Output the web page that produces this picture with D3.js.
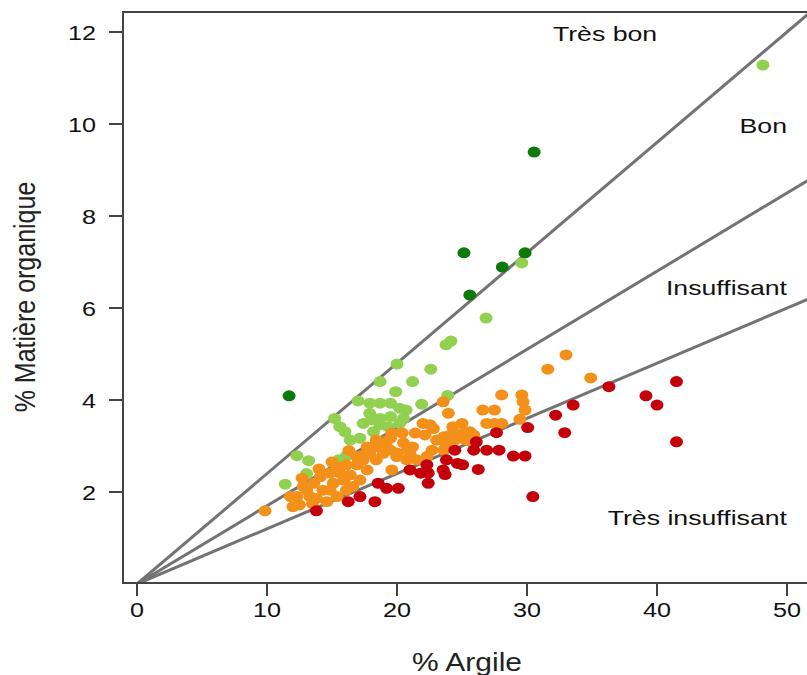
<!DOCTYPE html>
<html><head><meta charset="utf-8">
<script src="https://cdn.jsdelivr.net/npm/d3@7"></script>
<style>body{margin:0;background:#fff}</style>
</head><body>
<script>
const xTicks = [0,10,20,30,40,50];
const yTicks = [2,4,6,8,10,12];
const ratios = [0.24,0.17,0.12];
const zoneLabels = ["Très bon","Bon","Insuffisant","Très insuffisant"];
const tresBon = [[11.7,4.09],[25.15,7.2],[25.6,6.28],[28.1,6.89],[29.85,7.2],[30.55,9.39]];
const bon = [[48.15,11.28],[29.6,6.98],[26.85,5.78],[24.15,5.28],[23.77,5.2],[22.6,4.67],[20.0,4.78],[21.2,4.4],[18.7,4.4],[19.9,4.18],[23.9,4.1],[21.9,3.91],[17.0,3.98],[17.9,3.93],[18.7,3.93],[19.5,3.93],[20.2,3.82],[20.7,3.78],[17.9,3.71],[18.7,3.6],[19.5,3.64],[20.5,3.6],[15.2,3.6],[15.6,3.42],[16.0,3.31],[17.4,3.49],[18.05,3.57],[18.7,3.46],[19.3,3.42],[18.2,3.31],[20.2,3.49],[16.4,3.13],[17.15,3.17],[16.1,2.78],[15.5,2.7],[12.3,2.79],[13.2,2.68],[13.05,2.4],[11.4,2.17]];
const insuffisant = [[31.6,4.67],[33.0,4.98],[34.9,4.48],[28.05,4.11],[29.6,4.11],[29.7,3.96],[29.85,3.78],[26.6,3.78],[27.5,3.78],[23.95,3.71],[23.55,3.96],[26.9,3.49],[27.5,3.49],[28.05,3.49],[29.45,3.58],[25.0,3.49],[24.3,3.42],[25.6,3.31],[25.1,3.28],[24.6,3.24],[24.1,3.24],[23.6,3.2],[23.8,3.02],[24.3,3.09],[24.85,3.17],[25.35,3.13],[25.9,3.24],[22.8,3.38],[22.0,3.49],[22.55,3.46],[21.4,3.28],[22.15,3.24],[19.6,3.28],[20.4,3.28],[18.9,3.09],[18.3,2.98],[17.8,2.91],[17.4,2.8],[17.0,2.74],[20.5,3.07],[21.2,2.98],[20.8,2.91],[20.0,2.85],[19.5,2.91],[23.05,3.13],[22.7,2.91],[22.3,2.77],[23.6,2.91],[24.1,2.98],[25.75,3.09],[21.5,2.7],[20.75,2.7],[19.98,2.77],[19.6,2.48],[17.7,2.48],[16.9,2.59],[16.1,2.59],[15.4,2.55],[14.85,2.41],[14.1,2.33],[13.6,2.19],[12.8,2.12],[12.3,1.9],[11.8,1.9],[12.0,1.68],[12.5,1.72],[13.8,1.86],[14.6,1.79],[15.4,1.9],[16.1,2.04],[16.6,2.12],[17.15,2.26],[9.85,1.59],[13.05,2.04],[14.3,2.04],[15.1,2.19],[15.9,2.26],[16.4,2.37],[15.6,2.41],[13.3,1.9],[14.85,2.04],[16.9,2.77],[17.4,2.7],[18.4,2.7],[17.9,2.84],[18.95,2.84],[19.2,2.98],[17.7,2.98],[18.4,3.13],[19.5,3.17],[21.0,2.85],[13.5,1.75],[14.0,2.5],[15.0,2.65],[16.3,2.9],[12.7,2.3]];
const tresInsuffisant = [[36.3,4.29],[33.55,3.89],[32.2,3.67],[32.9,3.29],[39.15,4.09],[40.0,3.89],[41.5,4.4],[41.5,3.09],[30.05,3.4],[27.65,3.29],[26.1,3.09],[24.45,2.91],[25.9,2.91],[26.9,2.91],[27.85,2.91],[28.95,2.78],[29.85,2.78],[23.8,2.7],[24.65,2.62],[25.05,2.59],[23.55,2.48],[23.7,2.38],[26.25,2.49],[30.45,1.9],[21.0,2.48],[21.8,2.41],[22.3,2.59],[22.4,2.41],[22.4,2.19],[18.55,2.19],[19.2,2.08],[20.1,2.08],[17.15,1.9],[16.25,1.79],[18.3,1.79],[13.8,1.59]];

const W = 807, H = 675;
const svg = d3.select("body").append("svg").attr("width", W).attr("height", H);
const x = d3.scaleLinear().domain([0,50]).range([137,787]);
const y = d3.scaleLinear().domain([0,12]).range([584,32]);
const box = {l:123, t:12, r:812, b:583};
const font = "'Liberation Sans', Arial, sans-serif";
const SX = 1.2, SXL = 1.27;

svg.append("clipPath").attr("id","clip").append("rect")
  .attr("x",box.l).attr("y",box.t).attr("width",box.r-box.l).attr("height",box.b-box.t);

const plot = svg.append("g").attr("clip-path","url(#clip)");
plot.selectAll("line.r").data(ratios).enter().append("line")
  .attr("x1", x(0)).attr("y1", y(0))
  .attr("x2", x(60)).attr("y2", r => y(60*r))
  .attr("stroke","#737373").attr("stroke-width",3);

const groups = [
  {data: bon, color:"#92d050"},
  {data: insuffisant, color:"#f39019"},
  {data: tresInsuffisant, color:"#c4000a"},
  {data: tresBon, color:"#0b7a0b"}
];
groups.forEach(g => {
  plot.append("g").selectAll("ellipse").data(g.data).enter().append("ellipse")
    .attr("cx", d => x(d[0])).attr("cy", d => y(d[1]))
    .attr("rx", 6.5).attr("ry", 5.5).attr("fill", g.color);
});

svg.append("path")
  .attr("d", `M${box.r},${box.t}H${box.l}V${box.b}H${box.r}`)
  .attr("fill","none").attr("stroke","#444").attr("stroke-width",2);

const yg = svg.append("g");
yg.selectAll("line").data(yTicks).enter().append("line")
  .attr("x1",109).attr("x2",box.l).attr("y1",d=>y(d)).attr("y2",d=>y(d))
  .attr("stroke","#444").attr("stroke-width",2);
yg.selectAll("text").data(yTicks).enter().append("text")
  .attr("transform", d => `translate(96,${y(d)+7.5}) scale(${SX},1)`)
  .attr("text-anchor","end").attr("font-family",font).attr("font-size",21).attr("fill","#111")
  .text(d=>d);

const xg = svg.append("g");
xg.selectAll("line").data(xTicks).enter().append("line")
  .attr("x1",d=>x(d)).attr("x2",d=>x(d)).attr("y1",box.b).attr("y2",596)
  .attr("stroke","#444").attr("stroke-width",2);
xg.selectAll("text").data(xTicks).enter().append("text")
  .attr("transform", d => `translate(${x(d)},617) scale(${SX},1)`)
  .attr("text-anchor","middle").attr("font-family",font).attr("font-size",21).attr("fill","#111")
  .text(d=>d);

svg.append("text")
  .attr("transform", `translate(467,671) scale(${SX},1)`)
  .attr("text-anchor","middle").attr("font-family",font).attr("font-size",25).attr("fill","#222")
  .text("% Argile");
svg.append("text")
  .attr("transform", `translate(35,297) scale(${SX},1) rotate(-90)`)
  .attr("text-anchor","middle").attr("font-family",font).attr("font-size",25).attr("fill","#222")
  .text("% Matière organique");

const zl = [
  {t: zoneLabels[0], px: x(36.0), py: 41, a:"middle"},
  {t: zoneLabels[1], px: x(50), py: 133, a:"end"},
  {t: zoneLabels[2], px: x(50), py: 295, a:"end"},
  {t: zoneLabels[3], px: x(50), py: 525, a:"end"}
];
svg.append("g").selectAll("text").data(zl).enter().append("text")
  .attr("transform", d => `translate(${d.px},${d.py}) scale(${SXL},1)`)
  .attr("text-anchor", d=>d.a).attr("font-family",font).attr("font-size",21).attr("fill","#111")
  .text(d=>d.t);
</script>
</body></html>
